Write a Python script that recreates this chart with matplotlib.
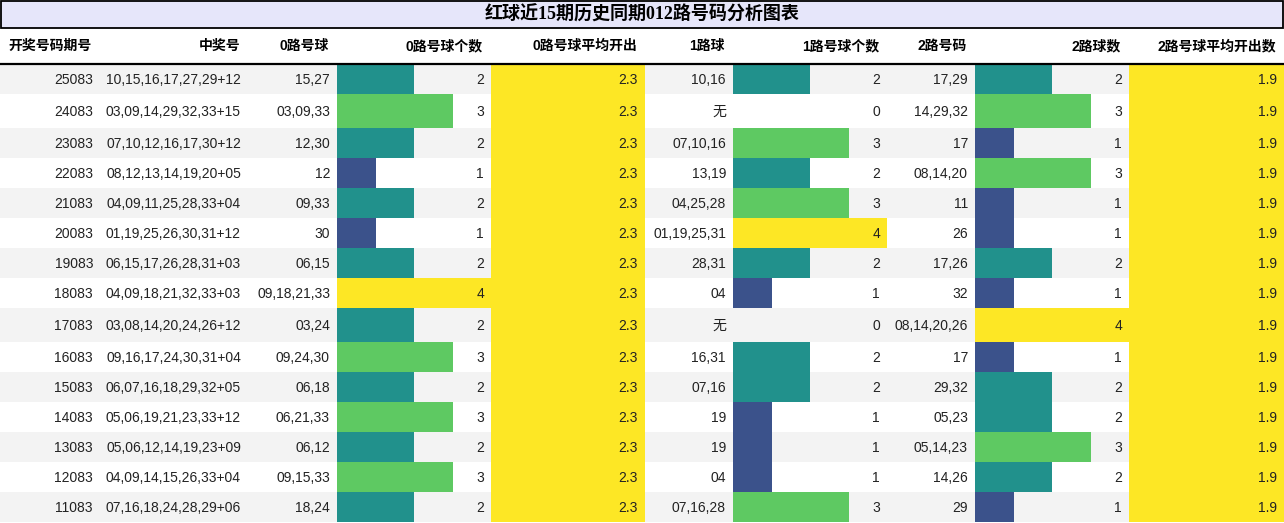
import matplotlib
matplotlib.use('Agg')
import matplotlib.pyplot as plt
from matplotlib.patches import Rectangle

periods = ['25083', '24083', '23083', '22083', '21083', '20083', '19083', '18083',
           '17083', '16083', '15083', '14083', '13083', '12083', '11083']
draws = ['10,15,16,17,27,29+12', '03,09,14,29,32,33+15', '07,10,12,16,17,30+12',
         '08,12,13,14,19,20+05', '04,09,11,25,28,33+04', '01,19,25,26,30,31+12',
         '06,15,17,26,28,31+03', '04,09,18,21,32,33+03', '03,08,14,20,24,26+12',
         '09,16,17,24,30,31+04', '06,07,16,18,29,32+05', '05,06,19,21,23,33+12',
         '05,06,12,14,19,23+09', '04,09,14,15,26,33+04', '07,16,18,24,28,29+06']
road0 = ['15,27', '03,09,33', '12,30', '12', '09,33', '30', '06,15', '09,18,21,33',
         '03,24', '09,24,30', '06,18', '06,21,33', '06,12', '09,15,33', '18,24']
road0_n = [2, 3, 2, 1, 2, 1, 2, 4, 2, 3, 2, 3, 2, 3, 2]
road0_avg = 2.3
road1 = ['10,16', '无', '07,10,16', '13,19', '04,25,28', '01,19,25,31', '28,31', '04',
         '无', '16,31', '07,16', '19', '19', '04', '07,16,28']
road1_n = [2, 0, 3, 2, 3, 4, 2, 1, 0, 2, 2, 1, 1, 1, 3]
road2 = ['17,29', '14,29,32', '17', '08,14,20', '11', '26', '17,26', '32',
         '08,14,20,26', '17', '29,32', '05,23', '05,14,23', '14,26', '29']
road2_n = [2, 3, 1, 3, 1, 1, 2, 1, 4, 1, 2, 2, 3, 2, 1]
road2_avg = 1.9

headers = ['开奖号码期号', '中奖号', '0路号球', '0路号球个数', '0路号球平均开出',
           '1路球', '1路号球个数', '2路号码', '2路球数', '2路号球平均开出数']
title = '红球近15期历史同期012路号码分析图表'

W, H = 1284, 523
col_edges = [0, 100, 248, 337, 491, 645, 733, 887, 975, 1129, 1284]
bar_cols = {3: road0_n, 6: road1_n, 8: road2_n}
avg_cols = {4: road0_avg, 9: road2_avg}
cmap = plt.get_cmap('viridis')
nmax = 4

num_font = ['Liberation Sans', 'Noto Sans CJK SC']
head_font = ['Liberation Sans', 'Noto Sans CJK SC']

fig = plt.figure(figsize=(W / 100, H / 100), dpi=100)
ax = fig.add_axes([0, 0, 1, 1])
ax.set_xlim(0, W)
ax.set_ylim(H, 0)
ax.axis('off')

# title bar
ax.add_patch(Rectangle((0.5, 0.5), W - 1.5, 27, facecolor='#e6e6fa',
                       edgecolor='black', lw=1.3))
ax.text(W / 2, 14.5, title, ha='center', va='center', fontsize=13,
        fontweight='bold', family=['Liberation Serif', 'Noto Sans CJK SC'])

# column headers
for j, h in enumerate(headers):
    ax.text(col_edges[j + 1] - 8, 46, h, ha='right', va='center', fontsize=10,
            fontweight='bold', family=head_font)
ax.plot([0, W], [63.5, 63.5], color='black', lw=1.6)

y = 64
for i in range(len(periods)):
    cells = [periods[i], draws[i], road0[i], str(road0_n[i]), f'{road0_avg:.1f}',
             road1[i], str(road1_n[i]), road2[i], str(road2_n[i]), f'{road2_avg:.1f}']
    rh = 34 if '无' in cells else 30
    bg = '#f3f3f3' if i % 2 == 0 else 'white'
    ax.add_patch(Rectangle((0, y), W, rh, facecolor=bg, edgecolor='none', zorder=0))
    for j, vals in bar_cols.items():
        v = vals[i]
        if v > 0:
            cw = col_edges[j + 1] - col_edges[j]
            ax.barh(y + rh / 2, v / nmax * cw, height=rh, left=col_edges[j],
                    color=cmap(v / nmax), zorder=1)
    for j, v in avg_cols.items():
        ax.barh(y + rh / 2, col_edges[j + 1] - col_edges[j], height=rh,
                left=col_edges[j], color=cmap(1.0), zorder=1)
    for j, c in enumerate(cells):
        ax.text(col_edges[j + 1] - 7, y + rh / 2 + 0.5, c, ha='right', va='center',
                fontsize=10, family=num_font, color='#222222', zorder=3)
    y += rh

fig.savefig('out.png', dpi=100)
